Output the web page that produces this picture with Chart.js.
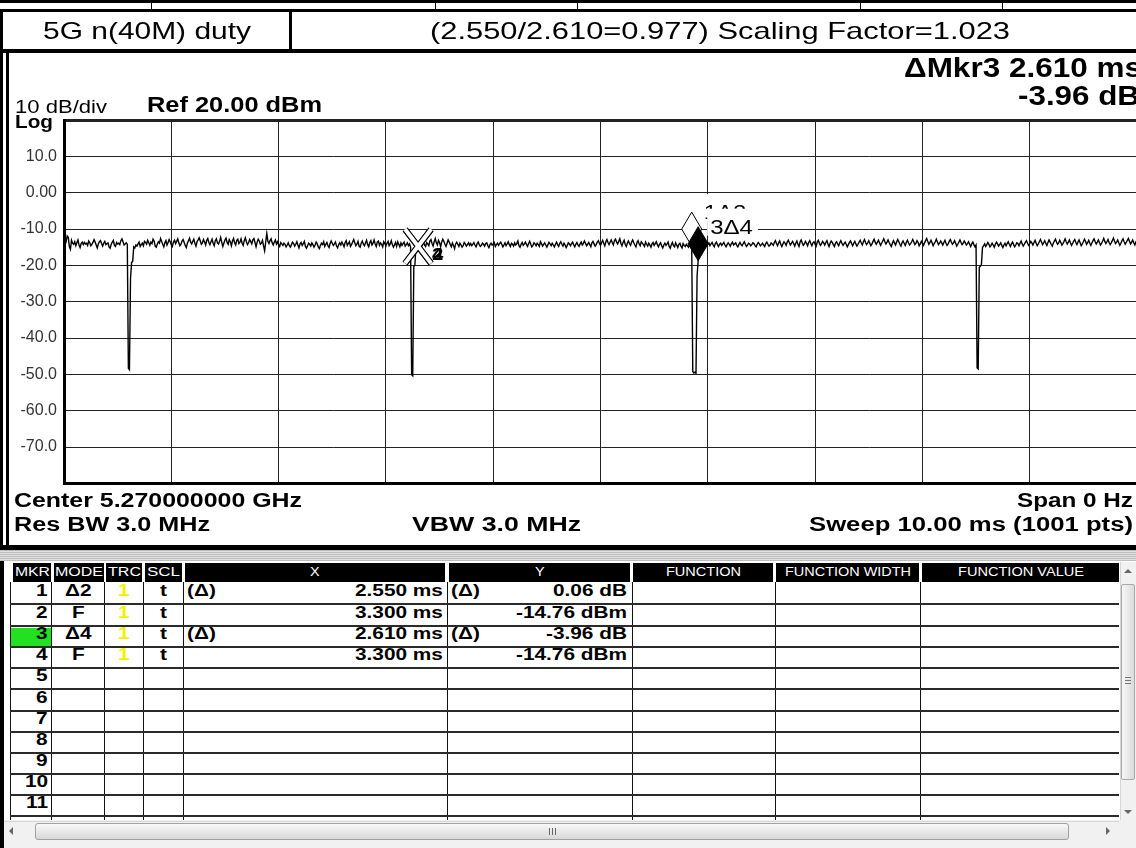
<!DOCTYPE html>
<html><head><meta charset="utf-8">
<script src="https://cdn.jsdelivr.net/npm/chart.js"></script>
<style>
html,body{margin:0;padding:0;background:#fff;overflow:hidden;}
#root{position:relative;width:1136px;height:848px;overflow:hidden;background:#fff;font-family:"Liberation Sans",Arial,sans-serif;}
.b{position:absolute;}
.t{position:absolute;white-space:nowrap;line-height:1;transform-origin:0 0;}
</style></head>
<body><div id="root"><canvas id="c" width="1150" height="500" style="position:absolute;left:0;top:0;width:1150px;height:500px"></canvas></div>
<script>
// ---------------- DATA ----------------
const headerTitle = '5G n(40M) duty';
const headerNote = '(2.550/2.610=0.977) Scaling Factor=1.023';
const refLevelText = 'Ref 20.00 dBm';
const scaleText = '10 dB/div';
const scaleType = 'Log';
const yTickValues = [10, 0, -10, -20, -30, -40, -50, -60, -70];
const yTickLabels = ['10.0', '0.00', '-10.0', '-20.0', '-30.0', '-40.0', '-50.0', '-60.0', '-70.0'];
const refLevel = 20, dbPerDiv = 10, divisions = 10;
const sweepMs = 10, sweepPoints = 1001;
const centerText = 'Center 5.270000000 GHz';
const spanText = 'Span 0 Hz';
const rbwText = 'Res BW 3.0 MHz';
const vbwText = 'VBW 3.0 MHz';
const sweepText = 'Sweep  10.00 ms (1001 pts)';

// trace 1 (dBm), 1001 sweep points, 0.01 ms apart
const traceDbm = [
-13.2,-12.6,-13.4,-11.9,-12.3,-14.8,-15.6,-13.1,-13.9,-14.2,-13.5,-14.6,-13.8,-13.0,-14.4,-15.1,-14.0,-13.6,-14.3,-13.7,
-14.1,-13.9,-14.5,-13.3,-13.8,-14.6,-14.2,-13.7,-12.9,-13.6,-14.4,-15.2,-14.1,-13.5,-13.2,-14.0,-14.7,-13.9,-13.4,-14.3,
-14.0,-13.8,-14.9,-15.3,-14.2,-13.6,-13.1,-14.5,-14.8,-13.7,-14.1,-13.9,-14.3,-13.2,-12.7,-13.5,-14.4,-14.1,-13.8,-14.2,
-48.3,-48.7,-23.6,-19.2,-18.9,-14.9,-15.2,-14.4,-14.7,-14.1,-13.6,-14.8,-14.3,-13.9,-14.6,-13.4,-13.7,-14.2,-13.1,-13.8,
-14.5,-13.6,-14.0,-12.8,-13.3,-14.7,-15.0,-14.1,-13.5,-13.9,-12.6,-13.4,-14.2,-14.9,-13.8,-13.2,-14.4,-13.7,-12.9,-13.5,
-14.3,-14.8,-13.6,-13.1,-14.0,-13.4,-12.7,-13.8,-14.6,-14.2,-13.3,-12.9,-13.7,-14.5,-15.1,-13.9,-13.2,-12.5,-13.6,-14.1,
-13.4,-12.8,-13.9,-14.7,-13.5,-13.0,-12.4,-13.3,-14.2,-13.8,-12.9,-13.6,-14.4,-13.1,-12.6,-13.7,-14.3,-13.5,-12.8,-13.9,
-14.6,-13.2,-12.7,-13.8,-14.1,-13.4,-12.3,-13.6,-14.8,-13.9,-13.0,-12.5,-13.7,-14.2,-12.9,-13.5,-14.6,-13.3,-12.6,-13.8,
-14.4,-13.1,-12.8,-14.0,-13.6,-12.7,-13.9,-14.5,-13.2,-12.4,-13.5,-14.3,-13.8,-12.9,-13.4,-14.1,-13.0,-12.6,-13.7,-14.9,
-13.6,-12.8,-13.3,-14.2,-13.9,-13.1,-14.7,-16.0,-13.5,-11.2,-13.4,-14.0,-13.2,-12.7,-13.8,-14.4,-13.6,-13.0,-14.1,-13.5,
-14.3,-14.8,-13.7,-14.1,-14.5,-13.9,-14.2,-14.9,-14.4,-13.8,-14.6,-15.0,-14.3,-13.6,-14.0,-14.7,-14.2,-13.5,-14.4,-15.2,
-14.1,-13.7,-14.5,-14.0,-13.4,-14.8,-15.3,-14.6,-13.9,-14.2,-14.7,-13.8,-14.3,-15.0,-14.4,-13.6,-14.1,-14.9,-15.4,-14.5,
-13.9,-14.3,-13.5,-14.8,-14.2,-13.7,-14.6,-15.1,-14.0,-13.3,-13.9,-14.5,-14.1,-13.6,-14.7,-15.2,-14.3,-13.8,-14.4,-13.6,
-14.2,-14.9,-13.7,-13.2,-14.5,-14.0,-13.5,-14.8,-14.3,-13.6,-12.9,-13.8,-14.6,-14.1,-13.4,-14.7,-15.0,-13.9,-13.3,-14.2,
-14.6,-13.8,-13.1,-14.3,-14.9,-13.7,-13.2,-14.4,-13.9,-13.0,-14.1,-14.8,-13.6,-13.3,-14.5,-13.8,-14.2,-14.9,-13.5,-14.0,
-14.7,-13.9,-13.4,-14.6,-14.1,-13.2,-14.3,-15.0,-14.4,-13.7,-14.8,-13.5,-14.2,-14.9,-13.8,-14.5,-14.0,-13.6,-14.7,-14.3,
-13.8,-14.6,-14.1,-14.9,-50.1,-50.4,-20.3,-20.0,-14.8,-14.3,-14.76,-13.9,-14.5,-15.1,-14.2,-13.6,-14.4,-14.8,-13.7,-14.1,
-14.6,-13.3,-12.9,-14.0,-14.7,-13.5,-12.6,-13.8,-14.4,-13.1,-13.7,-14.9,-13.6,-12.8,-13.4,-14.2,-14.8,-13.9,-13.0,-13.6,
-14.3,-14.9,-13.8,-14.5,-15.4,-14.1,-13.6,-14.2,-14.8,-13.9,-14.4,-15.0,-14.6,-13.7,-14.1,-14.7,-14.3,-13.8,-14.5,-14.0,
-14.6,-14.2,-13.7,-14.4,-14.9,-14.1,-13.6,-14.3,-14.8,-14.5,-13.9,-14.2,-14.7,-14.0,-13.8,-14.6,-15.1,-14.3,-13.9,-14.4,
-14.1,-13.7,-14.8,-14.3,-13.9,-14.5,-14.0,-13.6,-14.2,-14.9,-14.4,-13.8,-14.6,-14.1,-13.5,-14.3,-14.8,-13.9,-14.2,-14.7,
-13.8,-14.4,-14.0,-13.3,-14.6,-15.0,-14.2,-13.7,-14.5,-14.1,-13.6,-14.3,-14.8,-14.0,-13.4,-14.2,-14.9,-14.5,-13.8,-14.1,
-14.6,-13.9,-14.3,-14.8,-13.5,-14.0,-14.7,-14.2,-13.8,-14.4,-15.0,-14.3,-13.7,-14.1,-14.6,-13.9,-14.4,-14.9,-14.2,-13.6,
-14.3,-14.8,-14.0,-13.5,-14.2,-14.7,-13.9,-14.4,-15.1,-14.5,-13.8,-14.1,-14.6,-14.0,-13.6,-14.3,-14.9,-14.2,-13.7,-14.4,
-14.8,-14.1,-13.6,-14.4,-14.0,-13.3,-13.9,-14.6,-14.2,-13.7,-14.3,-14.9,-13.8,-13.4,-14.1,-14.7,-14.3,-13.6,-13.2,-14.0,
-14.5,-13.8,-13.1,-13.9,-14.6,-13.5,-12.9,-13.7,-14.3,-13.6,-13.0,-13.8,-14.4,-13.2,-12.8,-13.6,-14.1,-13.4,-12.7,-13.9,
-14.6,-13.7,-13.1,-14.2,-14.8,-13.9,-13.3,-14.0,-14.5,-13.6,-13.0,-13.8,-14.4,-14.9,-13.7,-13.2,-14.1,-14.6,-13.5,-13.9,
-14.3,-14.8,-13.6,-14.2,-14.7,-13.9,-14.4,-15.0,-14.1,-13.7,-14.5,-14.0,-13.5,-14.3,-14.9,-14.2,-13.8,-14.6,-15.2,-14.4,
-13.9,-14.5,-14.1,-13.6,-14.8,-15.3,-14.3,-13.7,-14.6,-14.9,-13.8,-14.4,-15.1,-14.2,-13.9,-14.7,-15.2,-14.0,-14.5,-14.8,
-14.2,-14.6,-15.0,-14.3,-14.9,-14.70,-49.2,-49.6,-49.4,-49.7,-23.0,-18.72,-14.6,-14.1,-14.8,-14.4,-13.9,-14.5,-14.2,-14.7,
-14.3,-13.8,-14.6,-14.1,-13.7,-14.4,-14.9,-14.0,-13.6,-14.3,-14.8,-14.2,-13.9,-14.5,-14.1,-13.7,-14.4,-14.9,-14.3,-13.8,
-14.2,-14.7,-14.0,-13.6,-14.4,-14.1,-13.8,-14.5,-14.9,-14.2,-13.7,-14.3,-14.6,-14.0,-13.5,-14.2,-14.8,-14.4,-13.9,-14.1,
-14.6,-14.3,-13.8,-14.0,-14.5,-14.9,-14.2,-13.7,-14.1,-14.6,-14.3,-13.9,-14.4,-14.8,-14.0,-13.6,-14.2,-14.7,-14.4,-13.8,
-14.1,-14.5,-13.7,-13.2,-14.0,-14.6,-13.8,-13.3,-14.2,-14.8,-14.1,-13.5,-13.9,-14.5,-13.6,-13.1,-13.8,-14.4,-13.9,-13.4,
-14.0,-14.7,-13.9,-13.3,-14.2,-14.8,-13.6,-13.0,-13.8,-14.5,-14.1,-13.4,-13.9,-14.6,-13.7,-13.2,-14.0,-14.6,-13.8,-13.5,
-14.2,-14.7,-13.6,-13.1,-13.9,-14.5,-14.0,-13.4,-13.8,-14.4,-13.7,-13.2,-14.1,-14.8,-13.9,-13.3,-13.7,-14.3,-14.8,-13.9,
-13.5,-14.1,-14.6,-13.8,-13.2,-13.9,-14.5,-14.0,-13.6,-14.2,-14.9,-14.3,-13.7,-13.3,-14.0,-14.6,-13.9,-13.4,-14.1,-14.7,
-14.2,-13.6,-13.1,-13.8,-14.4,-13.5,-12.9,-13.7,-14.3,-13.8,-13.2,-13.9,-14.6,-14.1,-13.4,-12.8,-13.6,-14.2,-13.7,-13.1,
-13.8,-14.5,-13.9,-13.3,-12.7,-13.5,-14.1,-13.6,-13.0,-13.7,-14.3,-14.8,-13.9,-13.2,-13.8,-14.4,-13.6,-12.9,-13.5,-14.2,
-14.7,-13.8,-13.3,-13.9,-14.5,-13.7,-13.1,-13.8,-14.4,-14.0,-13.5,-12.9,-13.6,-14.3,-13.9,-13.2,-13.7,-14.6,-14.1,-13.4,
-13.9,-14.5,-13.8,-13.2,-12.6,-13.4,-14.2,-13.7,-13.1,-13.8,-14.6,-14.0,-13.5,-12.8,-13.6,-14.3,-13.9,-13.3,-13.8,-14.4,
-13.7,-13.1,-13.9,-14.5,-14.1,-13.4,-12.9,-13.6,-14.2,-13.8,-13.2,-13.9,-14.7,-14.2,-13.6,-13.0,-13.7,-14.3,-13.9,-13.3,
-13.8,-14.4,-14.0,-13.5,-14.2,-14.8,-14.1,-13.6,-14.3,-14.9,-14.4,-48.2,-48.5,-20.6,-20.2,-19.8,-15.1,-14.6,-14.1,-14.8,
-14.3,-13.7,-14.2,-14.9,-14.5,-13.9,-14.4,-15.0,-14.2,-13.6,-14.1,-14.7,-14.3,-13.8,-14.5,-15.1,-14.4,-13.9,-14.6,-14.0,
-13.5,-14.2,-14.8,-14.1,-13.6,-14.3,-14.9,-14.4,-13.8,-14.0,-14.6,-13.9,-13.3,-14.1,-14.7,-14.2,-13.6,-13.2,-13.9,-14.5,
-14.0,-13.4,-13.8,-14.4,-13.7,-13.1,-13.9,-14.6,-14.1,-13.5,-12.9,-13.6,-14.3,-13.8,-13.2,-13.9,-14.5,-13.7,-13.0,-13.6,
-14.2,-14.7,-13.9,-13.3,-12.8,-13.6,-14.2,-13.8,-13.1,-13.7,-14.4,-14.0,-13.4,-12.7,-13.5,-14.1,-13.6,-13.0,-13.8,-14.5,
-14.0,-13.3,-12.9,-13.7,-14.3,-13.6,-13.0,-13.8,-14.6,-14.1,-13.5,-12.8,-13.4,-14.2,-13.7,-13.1,-13.9,-14.5,-13.8,-13.2,
-12.7,-13.5,-14.1,-13.6,-13.0,-13.8,-14.4,-13.9,-13.3,-12.6,-13.4,-14.0,-13.5,-12.9,-13.7,-14.3,-13.8,-13.2,-12.5,-13.3,
-14.0,-13.6,-13.0,-13.8,-14.5,-13.9,-13.2,-12.7,-13.5,-14.2,-13.7,-13.1,-12.6,-13.4,-14.1,-13.6,-13.0,-13.8,-14.4,-13.5,
-13.1
];

// marker table
const tableCols = ['MKR', 'MODE', 'TRC', 'SCL', 'X', 'Y', 'FUNCTION', 'FUNCTION WIDTH', 'FUNCTION VALUE'];
const mkrRows = 11;
const mkrMode = ['Δ2', 'F', 'Δ4', 'F'];
const mkrRef = [2, null, 4, null];
const mkrTrace = ['1', '1', '1', '1'];
const mkrScale = ['t', 't', 't', 't'];
const mkrX = [2.550, 3.300, 2.610, 3.300];   // ms (delta markers: relative)
const mkrY = [0.06, -14.76, -3.96, -14.76];  // dB / dBm
const activeMarker = 3;

// ---------------- helpers ----------------
const root = document.getElementById('root');
const FONT = '"Liberation Sans", Arial, sans-serif';
function R(x, y, w, h, css) {
  const d = document.createElement('div'); d.className = 'b';
  d.style.cssText += `left:${x}px;top:${y}px;width:${w}px;height:${h}px;` + (css || '');
  root.appendChild(d); return d;
}
function T(s, x, yc, size, bold, o) {
  o = o || {};
  const d = document.createElement('div'); d.className = 't'; d.textContent = s;
  d.style.fontSize = size + 'px'; d.style.fontWeight = bold ? 'bold' : 'normal';
  d.style.color = o.color || '#000';
  root.appendChild(d);
  const nat = d.getBoundingClientRect().width;
  const k = o.w ? o.w / nat : (o.k || 1);
  const w = nat * k;
  const left = o.align === 'right' ? x - w : o.align === 'center' ? x - w / 2 : x;
  d.style.left = left + 'px'; d.style.top = (yc - 0.49 * size) + 'px';
  d.style.transform = `scaleX(${k})`;
  return d;
}

// ---------------- frame ----------------
R(0, 0, 1136, 3, 'background:#000');
[151, 435, 577, 860, 1002].forEach(x => R(x, 3, 1, 6, 'background:#000'));
R(0, 9, 1136, 3, 'background:#000');
R(0, 9, 3, 44, 'background:#000');
R(289, 9, 3, 42, 'background:#000');
R(0, 49, 1136, 4, 'background:#000');
R(0, 49, 3, 500, 'background:#000');
R(6, 49, 3, 500, 'background:#000');
R(0, 545, 1136, 5, 'background:#000');
R(0, 550, 1136, 11, 'background:repeating-linear-gradient(to bottom,#bdbdbd 0px,#bdbdbd 1px,#e2e2e2 1px,#e2e2e2 2px)');
R(0, 561, 4, 287, 'background:#000');

T(headerTitle, 147, 31, 24, false, { w: 208, align: 'center' });
T(headerNote, 720, 31, 24, false, { w: 580, align: 'center' });

// analyzer annotations
const markers = mkrMode.map((m, i) => {
  const ref = mkrRef[i];
  const t = ref ? mkrX[ref - 1] + mkrX[i] : mkrX[i];
  const lvl = ref ? mkrY[ref - 1] + mkrY[i] : mkrY[i];
  return { num: i + 1, ref, mode: m, t, lvl };
});
const act = activeMarker - 1;
T('ΔMkr' + activeMarker + ' ' + mkrX[act].toFixed(3) + ' ms', 904, 68, 27, true, { w: 238 });
T(mkrY[act].toFixed(2) + ' dB', 1018, 96, 27, true, { w: 122 });
T(scaleText, 15, 106, 19, false, { w: 92 });
T(scaleType, 15, 121.5, 19, true, { w: 38 });
T(refLevelText, 147, 105, 22, true, { w: 175 });
T(centerText, 14, 500, 20, true, { w: 288 });
T(spanText, 1133, 500, 20, true, { w: 116, align: 'right' });
T(rbwText, 14, 523.5, 20, true, { w: 196 });
T(vbwText, 412, 523.5, 20, true, { w: 169 });
T(sweepText, 1133, 523.5, 20, true, { w: 324, align: 'right' });

// ---------------- table ----------------
const hdrCells = [[13, 51], [54, 104], [106, 142], [145, 182], [185, 445], [449, 630], [633, 773], [776, 919], [922, 1119]];
const hdrTextW = [35, 48, 33, 33, null, null, 75, 126, 126];
hdrCells.forEach((c, i) => {
  R(c[0], 563, c[1] - c[0], 19, 'background:#000');
  T(tableCols[i], (c[0] + c[1]) / 2, 572.5, 12.5, false, { color: '#fff', align: 'center', w: hdrTextW[i] || undefined, k: 1.15 });
});
const rowLines = [604, 626, 647, 668, 689, 711, 732, 753, 774, 795, 816];
const rowTops = [582].concat(rowLines.slice(0, -1));
const colLines = [10, 51, 104, 143, 183, 447, 632, 775, 920];
R(11, 628, 40, 19, 'background:#22e022');
colLines.forEach(x => R(x, 582, 1, 238, 'background:#111'));
rowLines.forEach(y => R(10, y - 1, 1109, 2, 'background:#2a2a2a'));
for (let r = 0; r < mkrRows; r++) {
  const yc = (rowTops[r] + rowLines[r]) / 2 - 2.5;
  T(String(r + 1), 48, yc, 16, true, { align: 'right', k: 1.3 });
  if (r < mkrMode.length) {
    const delta = !!mkrRef[r];
    T(mkrMode[r], 78, yc, 16, true, { align: 'center', k: 1.3 });
    T(mkrTrace[r], 124, yc, 16, true, { align: 'center', k: 1.3, color: '#f4f000' });
    T(mkrScale[r], 163.5, yc, 16, true, { align: 'center', k: 1.3 });
    if (delta) T('(Δ)', 187, yc, 16, true, { k: 1.3 });
    T(mkrX[r].toFixed(3) + ' ms', 443, yc, 16, true, { align: 'right', k: 1.3 });
    if (delta) T('(Δ)', 451, yc, 16, true, { k: 1.3 });
    T(mkrY[r].toFixed(2) + (delta ? ' dB' : ' dBm'), 627, yc, 16, true, { align: 'right', k: 1.3 });
  }
}
// vertical scrollbar
R(1120, 562, 16, 258, 'background:#f1f1f1;border-left:1px solid #d6d6d6;box-sizing:border-box');
R(1124, 569, 0, 0, 'border-left:4px solid transparent;border-right:4px solid transparent;border-bottom:4px solid #666');
R(1121, 584, 14, 196, 'background:linear-gradient(to right,#f6f6f6,#dcdcdc);border:1px solid #a8a8a8;border-radius:2px;box-sizing:border-box');
[677, 680, 683].forEach(y => R(1125, y, 6, 1, 'background:#777'));
R(1124, 810, 0, 0, 'border-left:4px solid transparent;border-right:4px solid transparent;border-top:4px solid #666');
// horizontal scrollbar
R(4, 820, 1132, 28, 'background:#f1f1f1');
R(4, 821, 1115, 1, 'background:#d6d6d6');
R(9, 827, 0, 0, 'border-top:4px solid transparent;border-bottom:4px solid transparent;border-right:4px solid #666');
R(35, 823, 1034, 17, 'background:linear-gradient(to bottom,#f8f8f8,#d8d8d8);border:1px solid #a0a0a0;border-radius:3px;box-sizing:border-box');
[549, 552, 555].forEach(x => R(x, 828, 1, 7, 'background:#666'));
R(1106, 827, 0, 0, 'border-top:4px solid transparent;border-bottom:4px solid transparent;border-left:4px solid #666');

// ---------------- chart ----------------
function textK(ctx, s, x, base, size, bold, k, box) {
  ctx.font = (bold ? 'bold ' : '') + size + 'px ' + FONT;
  const w = ctx.measureText(s).width * k;
  if (box) { ctx.fillStyle = '#fff'; ctx.fillRect(x - 3, base - 25, w + 8, 27); }
  ctx.save(); ctx.translate(x, base); ctx.scale(k, 1);
  ctx.fillStyle = '#000'; ctx.textBaseline = 'alphabetic'; ctx.fillText(s, 0, 0);
  ctx.restore();
}
function seg(ctx, a, b, c, d) { ctx.beginPath(); ctx.moveTo(a, b); ctx.lineTo(c, d); ctx.stroke(); }
const markerPlugin = {
  id: 'markers',
  afterDatasetsDraw(chart) {
    const ctx = chart.ctx, xs = chart.scales.x, ys = chart.scales.y;
    ctx.save();
    markers.filter(m => m.mode === 'F').forEach(m => {
      const px = xs.getPixelForValue(m.t), py = ys.getPixelForValue(m.lvl);
      const hw = 13, hh = 17;
      ctx.lineCap = 'butt';
      ctx.strokeStyle = '#000'; ctx.lineWidth = 6;
      seg(ctx, px - hw, py - hh, px + hw, py + hh); seg(ctx, px + hw, py - hh, px - hw, py + hh);
      ctx.strokeStyle = '#fff'; ctx.lineWidth = 4;
      seg(ctx, px - hw, py - hh, px + hw, py + hh); seg(ctx, px + hw, py - hh, px - hw, py + hh);
    });
    markers.filter(m => m.mode === 'F').forEach(m => {
      const px = xs.getPixelForValue(m.t), py = ys.getPixelForValue(m.lvl);
      textK(ctx, String(m.num), px + 14, py + 14, 17, true, 1.2, false);
    });
    const deltas = markers.filter(m => m.mode !== 'F').sort((a, b) => (a.num === activeMarker) - (b.num === activeMarker));
    deltas.forEach(m => {
      const px = xs.getPixelForValue(m.t), py = ys.getPixelForValue(m.lvl);
      const w = 10, h = 34, filled = m.num === activeMarker;
      ctx.beginPath(); ctx.moveTo(px, py); ctx.lineTo(px + w, py - h / 2); ctx.lineTo(px, py - h); ctx.lineTo(px - w, py - h / 2); ctx.closePath();
      ctx.fillStyle = filled ? '#000' : '#fff'; ctx.fill();
      ctx.lineWidth = 1; ctx.strokeStyle = '#000'; ctx.stroke();
    });
    deltas.forEach(m => {
      const px = xs.getPixelForValue(m.t), py = ys.getPixelForValue(m.lvl);
      textK(ctx, m.num + 'Δ' + m.ref, px + 12, py - 27, 20, false, 1.2, true);
    });
    ctx.restore();
  }
};

const tracePts = traceDbm.map((v, i) => ({ x: i * sweepMs / (sweepPoints - 1), y: v }));
new Chart(document.getElementById('c'), {
  type: 'line',
  data: { datasets: [{ data: tracePts, borderColor: '#000', borderWidth: 1.4, pointRadius: 0, tension: 0, fill: false, borderJoinStyle: 'miter' }] },
  options: {
    responsive: false, animation: false, events: [], devicePixelRatio: 1, parsing: false,
    layout: { padding: { left: 0, top: 120, right: 13, bottom: 13 } },
    plugins: { legend: { display: false }, tooltip: { enabled: false } },
    scales: {
      x: {
        type: 'linear', min: 0, max: sweepMs,
        ticks: { display: false, stepSize: sweepMs / divisions },
        grid: { color: '#222', lineWidth: 1, drawTicks: false },
        border: { display: true, color: '#000', width: 3 },
        afterFit(s) { s.height = 0; }
      },
      y: {
        type: 'linear', min: refLevel - dbPerDiv * divisions, max: refLevel,
        ticks: {
          stepSize: dbPerDiv, padding: 7, color: '#333', autoSkip: false,
          font: { family: FONT, size: 16 },
          callback(v) { const k = yTickValues.indexOf(Math.round(v)); return k >= 0 ? yTickLabels[k] : ''; }
        },
        grid: { color: '#222', lineWidth: c => (c.tick && Math.round(c.tick.value) === refLevel) ? 3 : 1, drawTicks: false },
        border: { display: true, color: '#000', width: 3 },
        afterFit(s) { s.width = 64; }
      }
    }
  },
  plugins: [markerPlugin]
});
</script>
</body></html>
